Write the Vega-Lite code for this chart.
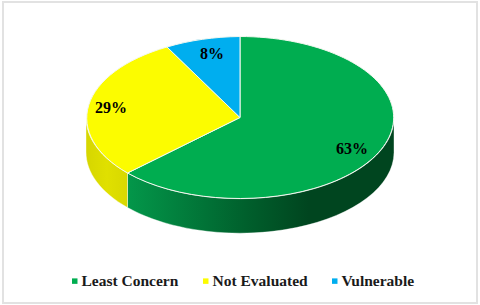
{
"$schema":"https://vega.github.io/schema/vega-lite/v6.json",
"width":480,"height":305,
"autosize":{"type":"fit","contains":"padding"},
"padding":{"left":3,"right":3,"top":2,"bottom":2},
"background":"white",
"data":{"values":[
{"category":"Least Concern","share":0.63},
{"category":"Not Evaluated","share":0.29},
{"category":"Vulnerable","share":0.08}
]},
"layer":[
{"mark":{"type":"square","size":1,"opacity":1},
 "encoding":{
  "color":{"field":"category","type":"nominal","scale":{"domain":["Least Concern","Not Evaluated","Vulnerable"],"range":["#00ad50","#fcfc00","#00aeef"]},
   "legend":{"title":null,"orient":"none","legendX":64,"legendY":271,"direction":"horizontal","columns":3,"symbolType":"square","symbolSize":30,"symbolStrokeWidth":0,"labelFont":"Liberation Serif","labelFontWeight":"bold","labelFontSize":15.5,"labelColor":"#1a1a1a","columnPadding":19,"labelOffset":-1}}
 }},
{"transform":[{"filter":"datum.category==='Least Concern'"}],
 "mark":{"type":"point","filled":true,"size":4,"opacity":1,"stroke":"#ffffff","strokeWidth":0.4,
  "shape":"M154,-35 A154,81 0 0 1 -112.5,20.5 L-112.5,55 A154,81 0 0 0 154,0 Z",
  "fill":{"x1":0,"y1":0,"x2":1,"y2":0,"gradient":"linear","stops":[{"offset":0,"color":"#03974a"},{"offset":0.45,"color":"#005f2c"},{"offset":0.68,"color":"#00451f"},{"offset":1,"color":"#00451f"}]}}},
{"transform":[{"filter":"datum.category==='Not Evaluated'"}],
 "mark":{"type":"point","filled":true,"size":4,"opacity":1,"stroke":"#ffffff","strokeWidth":0.4,
  "shape":"M-112.5,20.5 A154,81 0 0 1 -154,-35 L-154,-0.5 A154,81 0 0 0 -112.5,55 Z",
  "fill":{"x1":0,"y1":0,"x2":1,"y2":0,"gradient":"linear","stops":[{"offset":0,"color":"#d6d600"},{"offset":0.5,"color":"#e0e000"},{"offset":1,"color":"#d8d800"}]}}},
{"transform":[{"filter":"datum.category==='Least Concern'"}],
 "mark":{"type":"point","filled":true,"size":4,"opacity":1,"stroke":"#f4f8f0","strokeWidth":1,"fill":"#00ad50","shape":"M0,-35 L0,-116 A154,81 0 1 1 -112.5,20.5 Z"}},
{"transform":[{"filter":"datum.category==='Not Evaluated'"}],
 "mark":{"type":"point","filled":true,"size":4,"opacity":1,"stroke":"#f4f8f0","strokeWidth":1,"fill":"#fcfc00","shape":"M0,-35 L-112.5,20.5 A154,81 0 0 1 -73,-105.5 Z"}},
{"transform":[{"filter":"datum.category==='Vulnerable'"}],
 "mark":{"type":"point","filled":true,"size":4,"opacity":1,"stroke":"#f4f8f0","strokeWidth":1,"fill":"#00aeef","shape":"M0,-35 L-73,-105.5 A154,81 0 0 1 0,-116 Z"}},
{"mark":{"type":"text","font":"Liberation Serif","fontWeight":"bold","fontSize":16,"color":"#000000","align":"center","baseline":"middle"},
 "encoding":{
  "x":{"field":"share","type":"quantitative","axis":null,"scale":{"type":"linear","zero":false,"nice":false,"domain":[0.08,0.29,0.63],"range":[209,108,349]}},
  "y":{"field":"share","type":"quantitative","axis":null,"scale":{"type":"linear","zero":false,"nice":false,"domain":[0.08,0.29,0.63],"range":[52,106,147]}},
  "text":{"field":"share","type":"quantitative","format":".0%"}
 }}
],
"config":{"view":{"stroke":"#e2e2e2","strokeWidth":2}}
}
